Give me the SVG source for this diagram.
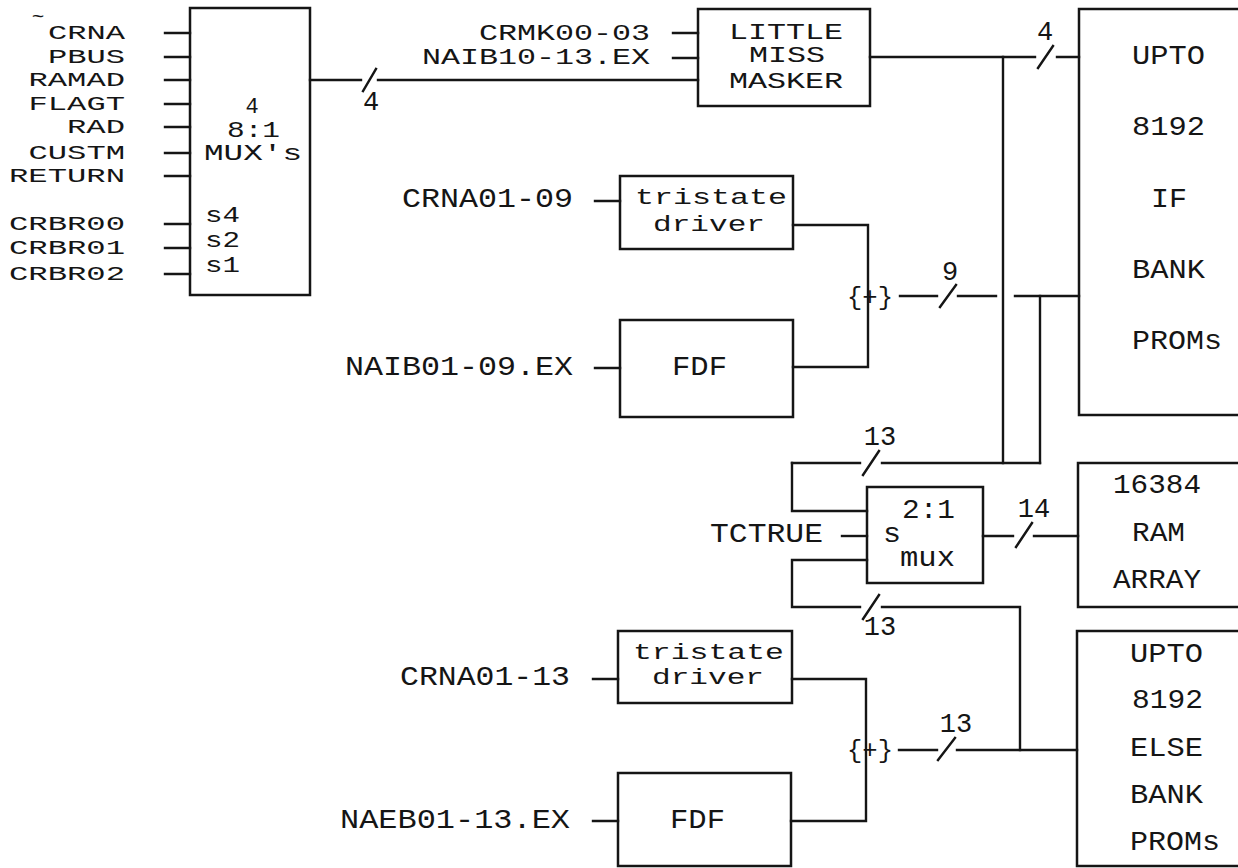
<svg xmlns="http://www.w3.org/2000/svg" width="1238" height="868" viewBox="0 0 1238 868">
<style>
.b{fill:none;stroke:#151515;stroke-width:2.5}
.w{fill:none;stroke:#151515;stroke-width:2.4;stroke-linecap:square}
.t{font-family:"Liberation Mono",monospace;font-size:27px;fill:#151515;stroke:none}
.k{font-family:"Liberation Mono",monospace;font-size:22px;fill:#151515;stroke:none}
.m{font-family:"Liberation Mono",monospace;font-size:22px;fill:#151515;stroke:none}
.p{font-family:"Liberation Mono",monospace;font-size:25px;fill:#151515;stroke:none}
.l{font-family:"Liberation Mono",monospace;font-size:21px;fill:#151515;stroke:none}
.c{text-anchor:middle}
</style>
<rect width="1238" height="868" fill="#fff"/>
<g id="connectors">
<g class="w">
<path d="M165,33H190M165,57H190M165,80H190M165,104H190M165,127H190M165,153H190M165,176H190M165,224H190M165,248H190M165,274H190"/>
<path d="M310,80H361M378,80H698M363,91L376,69"/>
<path d="M673,33H698M673,58H698"/>
<path d="M870,57H1035M1057,57H1079M1038,68L1053,46"/>
<path d="M1003,57V463"/>
<path d="M595,201H620M793,225H868V367H793M595,368H620"/>
<path d="M900,296H937M958,296H996M1015,296H1079M940,307L956,285"/>
<path d="M1040,296V463"/>
<path d="M792,463H860M882,463H1040M863,475L879,451"/>
<path d="M792,463V511H867"/>
<path d="M842,536H867"/>
<path d="M867,560H792V607H860M882,607H1020V750M863,619L879,595"/>
<path d="M983,536H1013M1034,536H1078M1016,547L1032,523"/>
<path d="M593,679H618M792,679H866V821H791M593,821H618"/>
<path d="M899,750H937M957,750H1077M938,760L955,738"/>
</g>
<text class="t c" x="371" y="110">4</text>
<text class="t c" x="1045" y="40">4</text>
<text class="t c" x="950" y="280">9</text>
<text class="t c" x="880" y="445">13</text>
<text class="t c" x="880" y="635">13</text>
<text class="t c" x="1034" y="517">14</text>
<text class="t c" x="956" y="732">13</text>
<text class="p" x="847" y="305" textLength="46" lengthAdjust="spacingAndGlyphs">{+}</text>
<text class="p" x="847" y="758" textLength="46" lengthAdjust="spacingAndGlyphs">{+}</text>
</g>
<g id="mux-inputs">
<text class="l" x="38" y="23" text-anchor="middle">~</text>
<text class="l" x="48" y="39" textLength="77" lengthAdjust="spacingAndGlyphs">CRNA</text>
<text class="l" x="48" y="63" textLength="77" lengthAdjust="spacingAndGlyphs">PBUS</text>
<text class="l" x="28.5" y="86" textLength="96.5" lengthAdjust="spacingAndGlyphs">RAMAD</text>
<text class="l" x="28.5" y="110" textLength="96.5" lengthAdjust="spacingAndGlyphs">FLAGT</text>
<text class="l" x="67" y="133" textLength="58" lengthAdjust="spacingAndGlyphs">RAD</text>
<text class="l" x="28.5" y="159" textLength="96.5" lengthAdjust="spacingAndGlyphs">CUSTM</text>
<text class="l" x="9" y="182" textLength="116" lengthAdjust="spacingAndGlyphs">RETURN</text>
<text class="l" x="9" y="230" textLength="116" lengthAdjust="spacingAndGlyphs">CRBR00</text>
<text class="l" x="9" y="254" textLength="116" lengthAdjust="spacingAndGlyphs">CRBR01</text>
<text class="l" x="9" y="280" textLength="116" lengthAdjust="spacingAndGlyphs">CRBR02</text>
</g>
<g id="mux8">
<rect class="b" x="190" y="8" width="120" height="287"/>
<text class="m c" x="252" y="113">4</text>
<text class="m" x="227" y="137" textLength="53" lengthAdjust="spacingAndGlyphs">8:1</text>
<text class="m" x="204" y="160" textLength="98" lengthAdjust="spacingAndGlyphs">MUX's</text>
<text class="m" x="205" y="222" textLength="35" lengthAdjust="spacingAndGlyphs">s4</text>
<text class="m" x="205" y="247" textLength="35" lengthAdjust="spacingAndGlyphs">s2</text>
<text class="m" x="205" y="272" textLength="35" lengthAdjust="spacingAndGlyphs">s1</text>
</g>
<g id="masker">
<text class="k" x="479" y="40" textLength="171" lengthAdjust="spacingAndGlyphs">CRMK00-03</text>
<text class="k" x="422" y="64" textLength="228" lengthAdjust="spacingAndGlyphs">NAIB10-13.EX</text>
<rect class="b" x="698" y="9" width="172" height="97"/>
<text class="k" x="729" y="39" textLength="114" lengthAdjust="spacingAndGlyphs">LITTLE</text>
<text class="k" x="749" y="62" textLength="76" lengthAdjust="spacingAndGlyphs">MISS</text>
<text class="k" x="729" y="88" textLength="114" lengthAdjust="spacingAndGlyphs">MASKER</text>
</g>
<g id="if-bank">
<rect class="b" x="1079" y="9" width="200" height="406"/>
<text class="t" x="1132" y="64" textLength="73" lengthAdjust="spacingAndGlyphs">UPTO</text>
<text class="t" x="1132" y="135" textLength="73" lengthAdjust="spacingAndGlyphs">8192</text>
<text class="t" x="1151" y="207" textLength="36" lengthAdjust="spacingAndGlyphs">IF</text>
<text class="t" x="1132" y="278" textLength="73" lengthAdjust="spacingAndGlyphs">BANK</text>
<text class="t" x="1132" y="349" textLength="90" lengthAdjust="spacingAndGlyphs">PROMs</text>
</g>
<g id="tristate1">
<text class="t" x="402" y="207" textLength="171" lengthAdjust="spacingAndGlyphs">CRNA01-09</text>
<rect class="b" x="620" y="176" width="173" height="73"/>
<text class="k" x="635" y="204" textLength="152" lengthAdjust="spacingAndGlyphs">tristate</text>
<text class="k" x="653" y="231" textLength="112" lengthAdjust="spacingAndGlyphs">driver</text>
</g>
<g id="fdf1">
<text class="t" x="345" y="375" textLength="228" lengthAdjust="spacingAndGlyphs">NAIB01-09.EX</text>
<rect class="b" x="620" y="320" width="173" height="97"/>
<text class="t" x="672" y="375" textLength="55" lengthAdjust="spacingAndGlyphs">FDF</text>
</g>
<g id="mux2">
<text class="t" x="710" y="542" textLength="113" lengthAdjust="spacingAndGlyphs">TCTRUE</text>
<rect class="b" x="867" y="487" width="116" height="96"/>
<text class="t" x="902" y="518" textLength="53" lengthAdjust="spacingAndGlyphs">2:1</text>
<text class="t" x="883" y="542" textLength="18" lengthAdjust="spacingAndGlyphs">s</text>
<text class="t" x="900" y="566" textLength="55" lengthAdjust="spacingAndGlyphs">mux</text>
</g>
<g id="ram">
<rect class="b" x="1078" y="463" width="200" height="144"/>
<text class="t" x="1113" y="493" textLength="88" lengthAdjust="spacingAndGlyphs">16384</text>
<text class="t" x="1132" y="541" textLength="53" lengthAdjust="spacingAndGlyphs">RAM</text>
<text class="t" x="1113" y="588" textLength="88" lengthAdjust="spacingAndGlyphs">ARRAY</text>
</g>
<g id="tristate2">
<text class="t" x="400" y="685" textLength="170" lengthAdjust="spacingAndGlyphs">CRNA01-13</text>
<rect class="b" x="618" y="631" width="174" height="72"/>
<text class="k" x="633" y="659" textLength="151" lengthAdjust="spacingAndGlyphs">tristate</text>
<text class="k" x="652" y="684" textLength="112" lengthAdjust="spacingAndGlyphs">driver</text>
</g>
<g id="fdf2">
<text class="t" x="340" y="828" textLength="230" lengthAdjust="spacingAndGlyphs">NAEB01-13.EX</text>
<rect class="b" x="618" y="773" width="173" height="93"/>
<text class="t" x="670" y="828" textLength="55" lengthAdjust="spacingAndGlyphs">FDF</text>
</g>
<g id="else-bank">
<rect class="b" x="1077" y="631" width="200" height="235"/>
<text class="t" x="1130" y="662" textLength="73" lengthAdjust="spacingAndGlyphs">UPTO</text>
<text class="t" x="1132" y="708" textLength="71" lengthAdjust="spacingAndGlyphs">8192</text>
<text class="t" x="1130" y="756" textLength="73" lengthAdjust="spacingAndGlyphs">ELSE</text>
<text class="t" x="1130" y="803" textLength="73" lengthAdjust="spacingAndGlyphs">BANK</text>
<text class="t" x="1130" y="850" textLength="90" lengthAdjust="spacingAndGlyphs">PROMs</text>
</g>
</svg>
